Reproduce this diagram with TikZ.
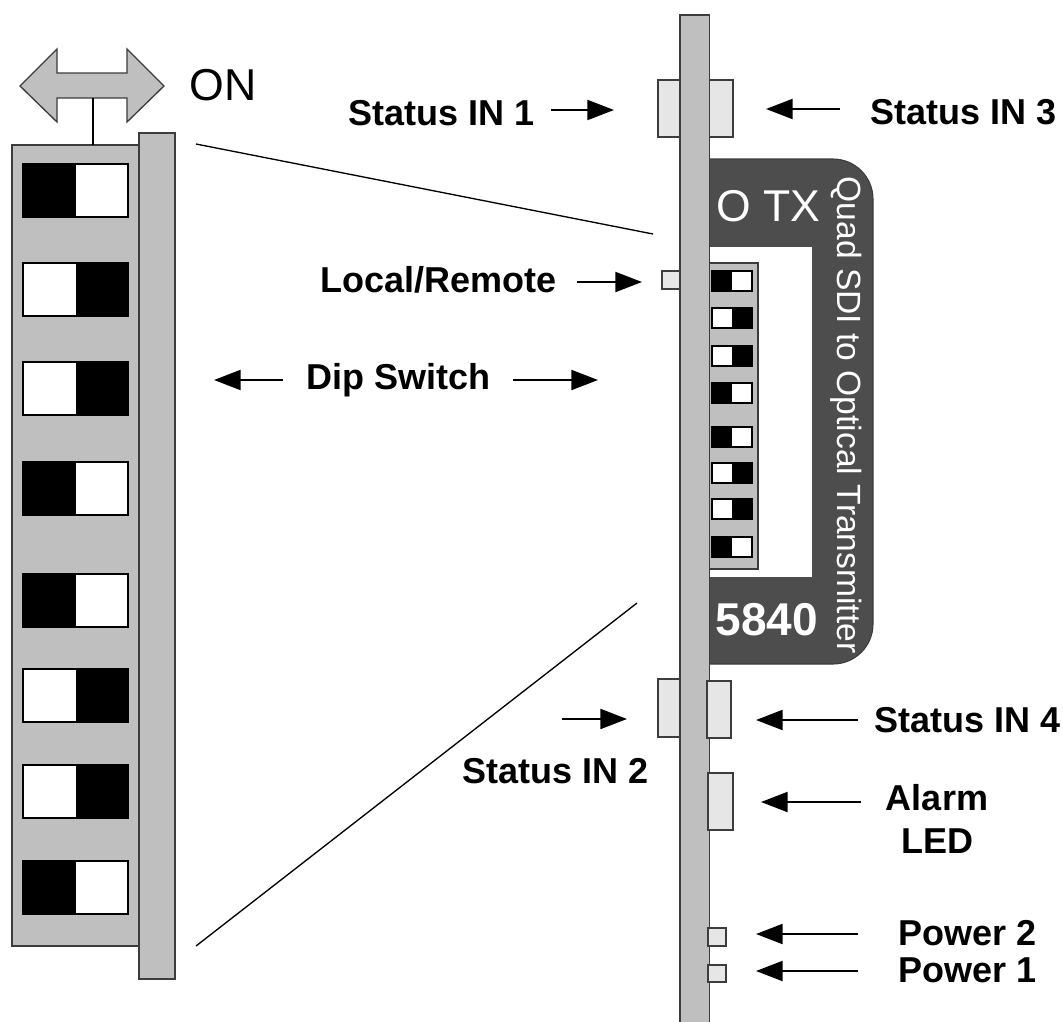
\documentclass[tikz,border=0pt]{standalone}
\usepackage{fontspec}
\setmainfont{Liberation Sans}
\usetikzlibrary{arrows.meta}

\definecolor{boardgray}{HTML}{BFBFBF}
\definecolor{partgray}{HTML}{E6E6E6}
\definecolor{labelgray}{HTML}{4D4D4D}
\definecolor{edgegray}{HTML}{3C3C3C}

\begin{document}
\begin{tikzpicture}[x=0.75pt, y=-0.75pt, >={Triangle[length=20pt,width=15pt]},
  box/.style 2 args={minimum width=#1*0.75pt, minimum height=#2*0.75pt,
                     inner sep=0pt, outer sep=0pt, anchor=north west},
  board/.style={draw=edgegray, line width=1.2pt, fill=boardgray},
  part/.style={draw=edgegray, line width=1pt, fill=partgray},
  swbody/.style={draw=black, line width=1pt, fill=white},
  swon/.style={fill=black},
  lbl/.style={font=\fontsize{27}{32}\selectfont\bfseries, inner sep=0pt, anchor=west},
  ptr/.style={->, line width=1.6pt, black}]
  \useasboundingbox (0,0) rectangle (1063,1021);

  % label plate behind the board
  \path[fill=labelgray, draw=edgegray, line width=0.8pt, sharp corners] (700,159)
        [rounded corners=30pt] -- (873,159) -- (873,664) [sharp corners] -- (700,664) -- cycle;
  \node[box={112}{330}, fill=white] (window) at (700,247) {};
  \node[font=\fontsize{33.4}{36}\selectfont, text=white, inner sep=0pt] (txt) at (768,206) {O TX};
  \node[font=\fontsize{34.5}{36}\selectfont\bfseries, text=white, inner sep=0pt] (num) at (767,620) {5840};
  \node[font=\fontsize{25.2}{28}\selectfont, text=white, inner sep=0pt, rotate=-90] (name) at (846,415)
        {Quad SDI to Optical Transmitter};

  % small dip switch
  \node[box={49}{306}, board] (smalldip) at (709,263) {};
  \foreach \i/\y/\bx in {1/271/712, 2/308/732, 3/346/732, 4/383/712, 5/427/712, 6/463/732, 7/499/732, 8/537/712} {
    \node[box={40}{20}, swbody] (small\i) at (712,\y) {};
    \node[box={20}{20}, swon] (smallon\i) at (\bx,\y) {};
  }

  % board edge and the parts on it
  \node[box={22}{57}, part] (capa) at (658,80) {};
  \node[box={24}{57}, part] (capc) at (709,80) {};
  \node[box={22}{58}, part] (capb) at (658,679) {};
  \node[box={18}{18}, part] (localsw) at (662,271) {};
  \node[box={29.5}{1020}, board] (edge) at (680,15) {};
  \node[box={24}{57}, part] (capd) at (707,681) {};
  \node[box={25}{57}, part] (alarmled) at (708,773) {};
  \node[box={18}{18}, part] (pwrb) at (708,928) {};
  \node[box={18}{17}, part] (pwra) at (708,965) {};

  % large dip switch
  \node[box={127}{801}, board] (bigdip) at (12,145) {};
  \node[box={36}{846}, board] (bigrail) at (139,133) {};
  \foreach \i/\y/\bx in {1/164/23, 2/263/76, 3/362/76, 4/462/23, 5/574/23, 6/669/76, 7/765/76, 8/861/23} {
    \node[box={105}{53}, swbody] (big\i) at (23,\y) {};
    \node[box={53}{53}, swon] (bigon\i) at (\bx,\y) {};
  }

  % ON marker
  \path[fill=boardgray, draw=edgegray, line width=1pt] (20,86) -- (57,49) -- (57,73) -- (127,73)
        -- (127,49) -- (164,86) -- (127,122) -- (127,98) -- (57,98) -- (57,122) -- cycle;
  \coordinate (stem) at (93,98);
  \draw[line width=1pt] (stem) -- (stem |- bigdip.north);
  \node[font=\fontsize{33.5}{36}\selectfont, inner sep=0pt, anchor=west] (on) at (189,85) {ON};

  % zoom lines
  \coordinate (zooma) at (196,144);
  \coordinate (zoomb) at (653,234);
  \coordinate (zoomc) at (196,946);
  \coordinate (zoomd) at (637,603);
  \draw[line width=1pt] (zooma) -- (zoomb);
  \draw[line width=1pt] (zoomc) -- (zoomd);

  \node[lbl] (inone) at (348,113) {Status IN 1};
  \node[lbl] (inthree) at (870,112) {Status IN 3};
  \node[lbl] (local) at (320,280) {Local/Remote};
  \node[lbl] (dip) at (306,380) {Dip Switch};
  \node[lbl] (intwo) at (462,771) {Status IN 2};
  \node[lbl] (infour) at (874,720) {Status IN 4};
  \node[lbl, align=center, anchor=center] (alarm) at (937,819) {Alarm\\LED};
  \node[lbl] (pwrtwo) at (898,933) {Power 2};
  \node[lbl] (pwrone) at (898,970) {Power 1};

  \foreach \n/\xa/\xb/\y in {a/551/614/110, b/840/766/109, c/577/642/282, d/283/214/380, e/513/598/380,
                             f/562/627/719, g/858/756/720, h/861/761/802, k/858/756/934, m/858/756/971} {
    \coordinate (tail\n) at (\xa,\y);
    \coordinate (tip\n) at (\xb,\y);
    \draw[ptr] (tail\n) -- (tip\n);
  }
\end{tikzpicture}
\end{document}
